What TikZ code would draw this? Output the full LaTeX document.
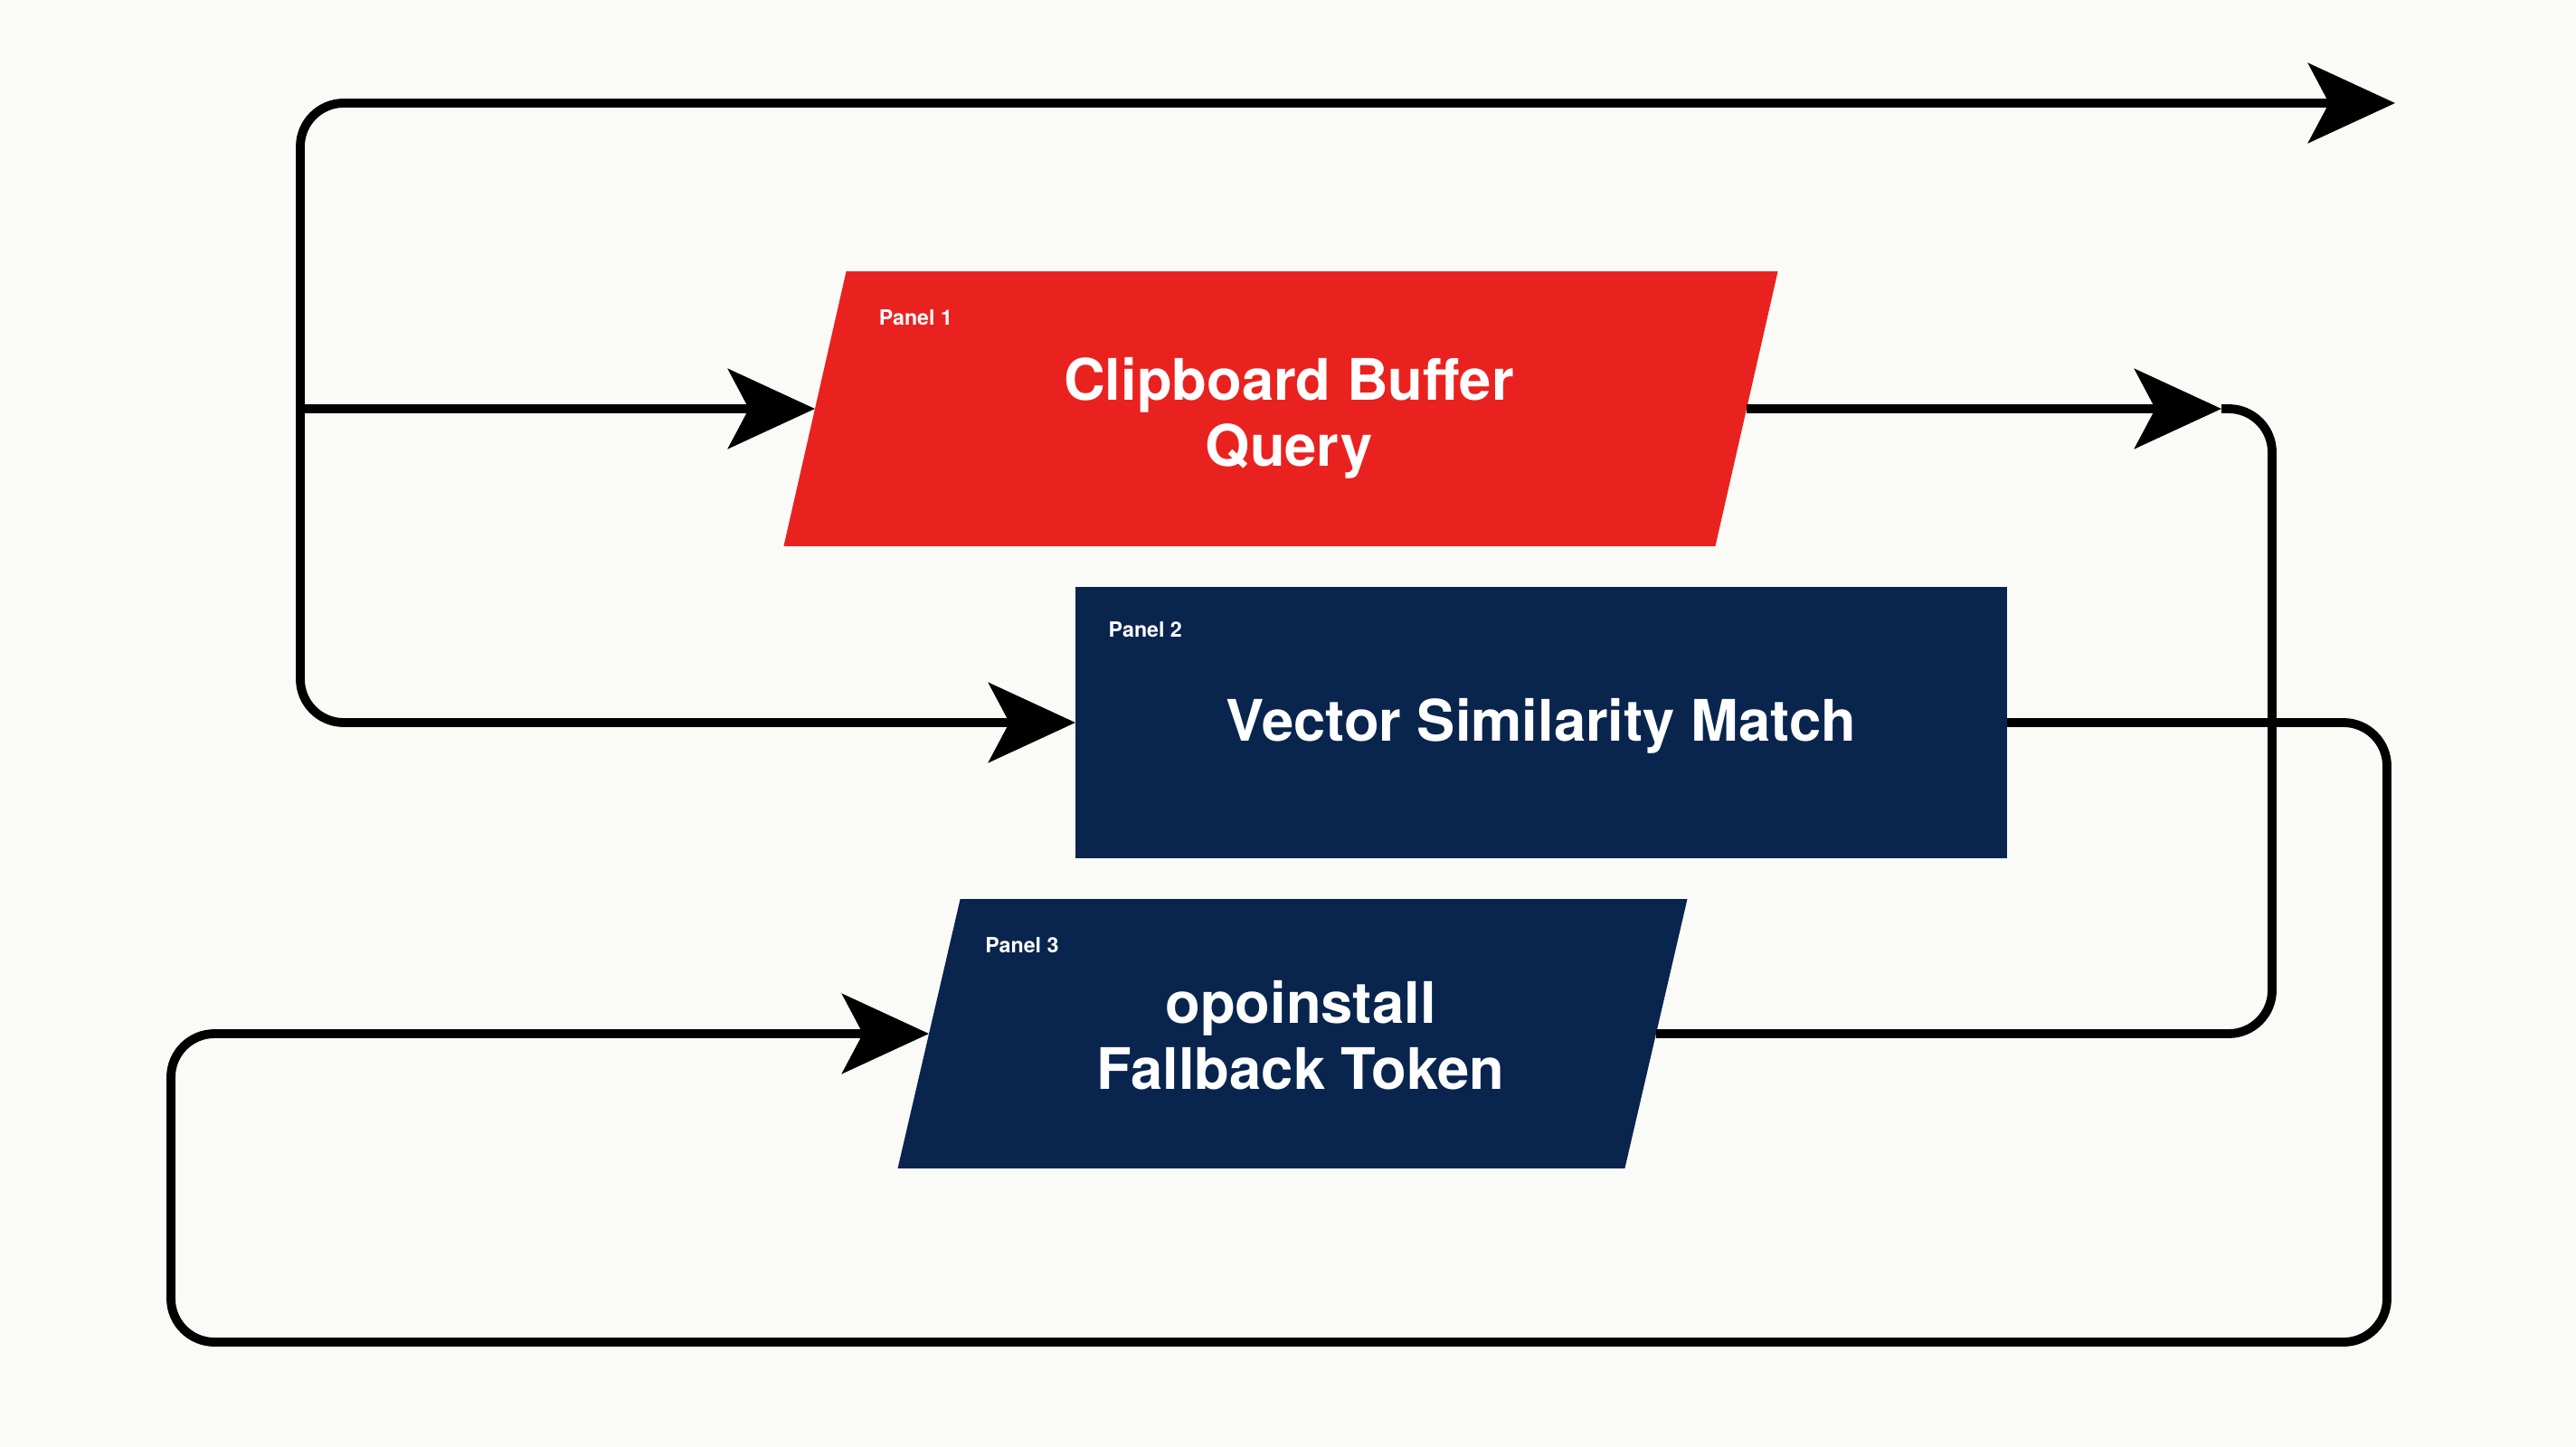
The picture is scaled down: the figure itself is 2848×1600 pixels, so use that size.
\documentclass[tikz,border=0pt]{standalone}
\usepackage{fontspec}
\setmainfont{TeX Gyre Heros}
\usetikzlibrary{arrows.meta,backgrounds}
\definecolor{bgcol}{RGB}{250,250,247}
\definecolor{panelred}{RGB}{234,34,31}
\definecolor{panelnavy}{RGB}{9,37,78}
\tikzset{
  panel/.style={rectangle, inner sep=0pt},
  maintext/.style={inner sep=0pt, text=white, align=center,
    font=\bfseries\fontsize{18}{20.8}\selectfont},
  lbl/.style={anchor=west, inner sep=0pt, text=white, font=\bfseries\fontsize{6.6}{8}\selectfont},
  wire/.style={line width=2.8pt, black, rounded corners=0.48cm},
  tipend/.style={-{Stealth[length=0.96cm,width=0.88cm,inset=0.23cm]}},
}
\begin{document}
\begin{tikzpicture}[x=0.01cm,y=-0.01cm]
\useasboundingbox (0,0) rectangle (2848,1600);
% panels
\node[panel, minimum width=10.28cm, minimum height=3.02cm] (p1) at (1416,452) {};
\node[panel, minimum width=10.28cm, minimum height=2.98cm] (p2) at (1704,799) {};
\node[panel, minimum width=8.02cm, minimum height=2.96cm] (p3) at (1429,1143) {};
\node[maintext] (t1) at ([xshift=0.09cm,yshift=-0.1cm]p1.center) {Clipboard Buffer\\Query};
\node[maintext] (t2) at ([yshift=-0.04cm]p2.center) {Vector Similarity Match};
\node[maintext] (t3) at ([xshift=0.09cm,yshift=-0.02cm]p3.center) {opoinstall\\Fallback Token};
\node[lbl] (l1) at ([xshift=0.70cm,yshift=-0.51cm]p1.north west) {Panel 1};
\node[lbl] (l2) at ([xshift=0.36cm,yshift=-0.47cm]p2.north west) {Panel 2};
\node[lbl] (l3) at ([xshift=0.615cm,yshift=-0.51cm]p3.north west) {Panel 3};
\begin{scope}[on background layer]
  \fill[bgcol] (0,0) rectangle (2848,1600);
  \fill[panelred] ([xshift=0.345cm]p1.north west) -- ([xshift=0.345cm]p1.north east)
     -- ([xshift=-0.345cm]p1.south east) -- ([xshift=-0.345cm]p1.south west) -- cycle;
  \fill[panelnavy] (p2.north west) rectangle (p2.south east);
  \fill[panelnavy] ([xshift=0.345cm]p3.north west) -- ([xshift=0.345cm]p3.north east)
     -- ([xshift=-0.345cm]p3.south east) -- ([xshift=-0.345cm]p3.south west) -- cycle;
\end{scope}
% coordinates
\coordinate (topL) at (332,114);
\coordinate (topEnd) at (2648,114);
\coordinate (j1) at (topL |- p1.west);
\coordinate (k1) at (2456,452);
\coordinate (r1) at (2512,1143);
\coordinate (q1) at (2639,1484);
\coordinate (q2) at (189,1143);
% connectors
\draw[wire, {Stealth[length=0.96cm,width=0.88cm,inset=0.23cm]}-{Stealth[length=0.96cm,width=0.88cm,inset=0.23cm]}]
  (p2.west) -| (topL) -- (topEnd);
\draw[wire, tipend] (j1) -- (p1.west);
\draw[wire, tipend] (p1.east) -- (k1);
\draw[wire] (k1) -| (r1) -- (p3.east);
\draw[wire, tipend] (p2.east) -| (q1) -| (q2) -- (p3.west);
\end{tikzpicture}
\end{document}
